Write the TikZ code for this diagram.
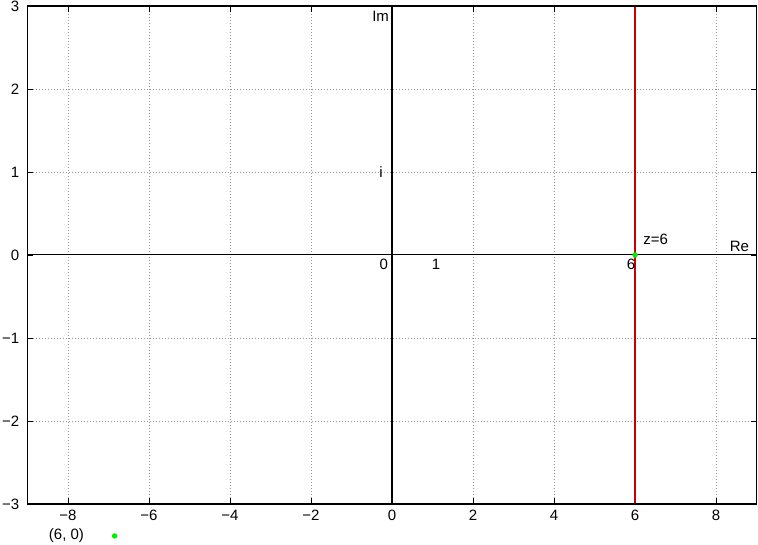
\documentclass[tikz,border=0pt]{standalone}
\usepackage{fontspec}
\setmainfont{Liberation Sans}
\definecolor{gridgray}{RGB}{150,150,150}
\definecolor{redline}{RGB}{200,0,0}
\definecolor{ptgreen}{RGB}{0,240,0}
\begin{document}
\begin{tikzpicture}[x=40.5pt,y=83pt,
  every node/.style={font=\fontsize{15}{17}\selectfont, inner sep=0pt},
  gridline/.style={gridgray, line width=0.6pt, dash pattern=on 1pt off 2pt},
  frameline/.style={black, line width=1.2pt},
  axisline/.style={black, line width=1pt},
  tickline/.style={black, line width=0.6pt}]
\useasboundingbox (-392/40.5,-290/83) rectangle (366/40.5,255/83);
% grid
\foreach \x in {-8,-6,-4,-2,2,4,8} \draw[gridline] (\x,-3) -- (\x,3);
\draw[gridline] (6,-3) -- (6,3);
\foreach \y in {-2,-1,1,2} \draw[gridline] (-9,\y) -- (9,\y);
% ticks
\foreach \x in {-8,-6,...,8} {
  \draw[tickline] (\x,-3) -- ++(0,6pt);
  \draw[tickline] (\x,3) -- ++(0,-6pt);
}
\foreach \y in {-3,...,3} {
  \draw[tickline] (-9,\y) -- ++(6pt,0);
  \draw[tickline] (9,\y) -- ++(-6pt,0);
}
% tick labels
\foreach \x/\l in {-8/−8,-6/−6,-4/−4,-2/−2,0/0,2/2,4/4,6/6,8/8}
  \node[anchor=north] (xt\x) at (\x,-3.07) {\l};
\foreach \y/\l in {-3/−3,-2/−2,-1/−1,0/0,1/1,2/2,3/3}
  \node[anchor=east] (yt\y) at (-9.2,\y) {\l};
% axes
\coordinate (reL) at (-9,0); \coordinate (reR) at (9,0);
\coordinate (imB) at (0,-3); \coordinate (imT) at (0,3);
\draw[axisline] (reL) -- (reR);
\draw[black, line width=1.4pt] (imB) -- (imT);
% red line
\coordinate (rB) at (6,-3); \coordinate (rT) at (6,3);
\draw[redline, line width=1.3pt] (rB) -- (rT);
% frame
\draw[frameline] (-9,-3) rectangle (9,3);
% labels
\node[anchor=east] (im) at (-0.07,2.88) {Im};
\node (ii) at (-0.27,1) {i};
\node (zero) at (-0.2,-0.11) {0};
\node (one) at (1.09,-0.11) {1};
\node (six) at (5.9,-0.11) {6};
\node[anchor=west] (z6) at (6.2,0.19) {z=6};
\node[anchor=east] (re) at (8.82,0.1) {Re};
% point
\node[circle, fill=ptgreen, minimum size=5.5pt] (pt) at (6,0) {};
% key
\node[anchor=east] (key) at (-7.6,-3.375) {(6, 0)};
\node[circle, fill=ptgreen, minimum size=5.5pt] (keypt) at (-6.85,-3.385) {};
\end{tikzpicture}
\end{document}
